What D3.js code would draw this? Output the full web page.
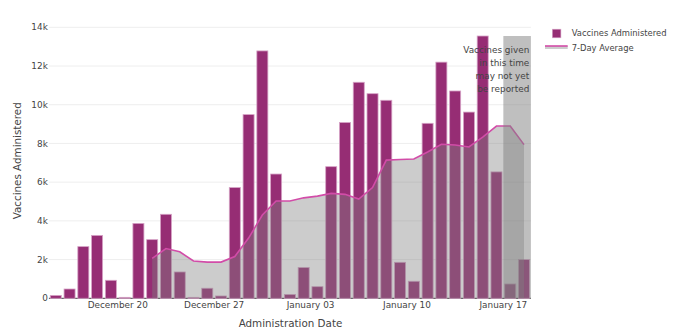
<!DOCTYPE html>
<html>
<head>
<meta charset="utf-8">
<script src="https://cdn.jsdelivr.net/npm/d3@7/dist/d3.min.js"></script>
<style>
  html, body { margin: 0; padding: 0; background: #fff; }
  svg { display: block; font-family: Verdana, "DejaVu Sans", sans-serif; }
</style>
</head>
<body>
<svg id="chart" width="680" height="334"></svg>
<script>
// ---- data ----
const startDate = "2020-12-15";
const dailyValues = [150, 480, 2670, 3250, 930, 50, 3870, 3030, 4340, 1360, 50, 520, 120,
  5720, 9490, 12780, 6420, 200, 1590, 600, 6800, 9080, 11160, 10570, 10230, 1860, 880,
  9040, 12200, 10710, 9620, 13550, 6530, 740, 2000];
// 7-day average, starting at the 8th day (Dec 22)
const avgStartIndex = 7;
const avgValues = [2060, 2570, 2400, 1930, 1870, 1870, 2160, 3110, 4300, 5030, 5030, 5190,
  5280, 5420, 5370, 5130, 5720, 7140, 7170, 7200, 7560, 7960, 7920, 7820, 8330, 8900, 8900, 7940];
const tickDates = ["2020-12-20", "2020-12-27", "2021-01-03", "2021-01-10", "2021-01-17"];
const tickLabels = ["December 20", "December 27", "January 03", "January 10", "January 17"];
const yTicks = [0, 2000, 4000, 6000, 8000, 10000, 12000, 14000];
const yTickLabels = ["0", "2k", "4k", "6k", "8k", "10k", "12k", "14k"];
const unreportedStart = "2021-01-17";
const domainEnd = "2021-01-19";
const annotationLines = ["Vaccines given", "in this time", "may not yet", "be reported"];
const legendLabels = ["Vaccines Administered", "7-Day Average"];

// ---- setup ----
const DAY = 86400000;
const parse = s => new Date(s + "T00:00:00Z");
const start = parse(startDate);
const dates = dailyValues.map((v, i) => new Date(start.getTime() + i * DAY));

const svg = d3.select("#chart");
const x = d3.scaleUtc().domain([start, parse(domainEnd)]).range([48.9, 530.9]);
const y = d3.scaleLinear().domain([0, 14000]).range([298.3, 27.3]);
const dayW = x(new Date(start.getTime() + DAY)) - x(start);
const center = d => x(new Date(d.getTime() + DAY / 2));

const barColor = "#962d74";
const lineColor = "#d24ca8";
const textColor = "#444";

// gridlines
svg.append("g").selectAll("line").data(yTicks.filter(t => t > 0)).join("line")
  .attr("x1", x.range()[0]).attr("x2", x.range()[1])
  .attr("y1", d => y(d)).attr("y2", d => y(d))
  .attr("stroke", "#eee").attr("stroke-width", 1);

// zero line
svg.append("line")
  .attr("x1", x.range()[0]).attr("x2", x.range()[1])
  .attr("y1", y(0)).attr("y2", y(0))
  .attr("stroke", "#444").attr("stroke-width", 1);

// bars
svg.append("g").selectAll("rect").data(dailyValues).join("rect")
  .attr("x", (d, i) => center(dates[i]) - dayW * 0.4)
  .attr("width", dayW * 0.8)
  .attr("y", d => y(d))
  .attr("height", d => y(0) - y(d))
  .attr("fill", barColor)
  .attr("stroke", "#d6a3c6").attr("stroke-width", 0.8);

// 7-day average area + line
const avgPts = avgValues.map((v, i) => [center(dates[avgStartIndex + i]), v]);
svg.append("path").datum(avgPts)
  .attr("d", d3.area().x(d => d[0]).y0(y(0)).y1(d => y(d[1])))
  .attr("fill", "rgba(128,128,128,0.4)");
svg.append("path").datum(avgPts)
  .attr("d", d3.line().x(d => d[0]).y(d => y(d[1])))
  .attr("fill", "none").attr("stroke", lineColor).attr("stroke-width", 1.6);

// unreported rect
svg.append("rect")
  .attr("x", x(parse(unreportedStart)))
  .attr("width", x(parse(domainEnd)) - x(parse(unreportedStart)))
  .attr("y", y(d3.max(dailyValues)))
  .attr("height", y(0) - y(d3.max(dailyValues)))
  .attr("fill", "rgba(128,128,128,0.5)");

// annotation
svg.append("g").selectAll("text").data(annotationLines).join("text")
  .attr("x", 529.3).attr("y", (d, i) => 50 + i * 13.1)
  .attr("dy", "0.35em").attr("text-anchor", "end")
  .attr("font-size", 8.9).attr("fill", textColor).text(d => d);

// y axis labels
svg.append("g").selectAll("text").data(yTicks).join("text")
  .attr("x", 47.8).attr("y", d => y(d)).attr("dy", "0.35em")
  .attr("text-anchor", "end").attr("font-size", 8.9).attr("fill", textColor)
  .text((d, i) => yTickLabels[i]);

// x axis labels
svg.append("g").selectAll("text").data(tickDates).join("text")
  .attr("x", d => x(parse(d))).attr("y", 305.3).attr("dy", "0.35em")
  .attr("text-anchor", "middle").attr("font-size", 8.9).attr("fill", textColor)
  .text((d, i) => tickLabels[i]);

// axis titles
svg.append("text").attr("x", 290.5).attr("y", 323).attr("dy", "0.35em")
  .attr("text-anchor", "middle").attr("font-size", 10.35).attr("fill", textColor)
  .text("Administration Date");
svg.append("text").attr("transform", "translate(17,160.8) rotate(-90)").attr("dy", "0.35em")
  .attr("text-anchor", "middle").attr("font-size", 10.35).attr("fill", textColor)
  .text("Vaccines Administered");

// legend
const lg = svg.append("g");
lg.append("rect").attr("x", 552.3).attr("y", 29.2).attr("width", 8.6).attr("height", 8.6)
  .attr("fill", barColor).attr("stroke", "#d6a3c6").attr("stroke-width", 0.6);
lg.append("rect").attr("x", 545).attr("y", 46).attr("width", 22.7).attr("height", 3)
  .attr("fill", "rgba(128,128,128,0.4)");
lg.append("line").attr("x1", 545).attr("x2", 567.7).attr("y1", 46).attr("y2", 46)
  .attr("stroke", lineColor).attr("stroke-width", 1.6);
lg.selectAll("text.l").data(legendLabels).join("text").attr("class", "l")
  .attr("x", 571.7).attr("y", (d, i) => 33.5 + i * 14.2).attr("dy", "0.35em")
  .attr("font-size", 8.4).attr("fill", textColor).text(d => d);
</script>
</body>
</html>
